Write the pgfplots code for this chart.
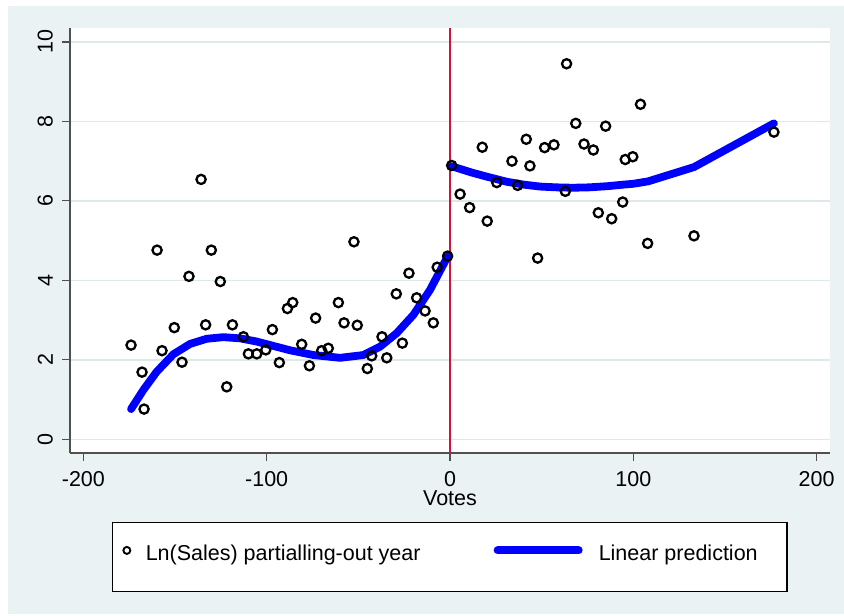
\documentclass[border=0pt]{standalone}
\usepackage{fontspec}
\setmainfont{Liberation Sans}
\usepackage{pgfplots}
\usepackage{pgfplotstable}
\pgfplotsset{compat=1.18}
\definecolor{bgc}{RGB}{234,242,243}
\definecolor{gridc}{RGB}{222,232,235}
\definecolor{axisc}{RGB}{80,80,80}
\definecolor{xlinec}{RGB}{205,20,60}
\definecolor{predc}{RGB}{0,0,255}

\pgfplotstableread{
x y
-174.0 2.37
-168.0 1.69
-166.9 0.76
-159.8 4.76
-157.1 2.23
-150.4 2.81
-146.2 1.94
-142.4 4.10
-135.8 6.54
-133.3 2.88
-130.2 4.76
-125.3 3.97
-121.8 1.32
-118.7 2.88
-112.7 2.58
-110.0 2.15
-105.4 2.15
-100.5 2.25
-96.9 2.76
-93.1 1.93
-88.7 3.29
-85.8 3.44
-80.9 2.39
-76.7 1.85
-73.3 3.05
-70.0 2.23
-66.4 2.29
-60.9 3.44
-57.8 2.93
-52.4 4.97
-50.6 2.87
-45.1 1.78
-42.7 2.10
-37.1 2.58
-34.5 2.05
-29.3 3.66
-26.0 2.42
-22.4 4.18
-18.2 3.56
-13.6 3.23
-9.1 2.93
-7.0 4.33
-1.3 4.61
0.9 6.89
5.5 6.17
10.7 5.83
17.6 7.35
20.3 5.49
25.5 6.46
33.8 7.00
36.9 6.39
41.6 7.55
43.6 6.88
47.8 4.56
51.6 7.34
56.7 7.41
62.9 6.24
63.6 9.45
68.6 7.95
73.1 7.43
78.2 7.28
80.9 5.70
84.9 7.88
88.2 5.55
94.2 5.97
95.6 7.04
99.7 7.11
103.9 8.43
107.8 4.93
133.1 5.12
176.7 7.73
}\scatterdata

\pgfplotstableread{
x y
-174.0 0.76
-167.3 1.24
-160.0 1.70
-150.9 2.14
-141.8 2.40
-132.7 2.53
-123.6 2.57
-114.5 2.54
-105.5 2.46
-96.4 2.35
-87.3 2.24
-74.5 2.12
-60.0 2.05
-47.3 2.12
-38.2 2.33
-29.1 2.67
-20.0 3.13
-10.9 3.76
-1.3 4.60
}\predleft

\pgfplotstableread{
x y
0.9 6.87
12.0 6.71
20.0 6.61
31.0 6.48
40.0 6.41
49.0 6.36
58.0 6.34
67.0 6.33
76.0 6.34
86.0 6.37
95.0 6.41
100.0 6.43
108.0 6.49
133.1 6.85
176.7 7.95
}\predright

\begin{document}
\begin{tikzpicture}
\path[use as bounding box] (0pt,0pt) rectangle (422pt,307.5pt);
\fill[bgc] (4pt,0.5pt) rectangle (422pt,304.5pt);
\draw[black, line width=0.6pt, fill=white] (56.15pt,11.65pt) rectangle (393.5pt,46.35pt);
\begin{axis}[
  at={(35pt,81pt)}, anchor=south west,
  scale only axis, width=380pt, height=212.5pt,
  xmin=-207.3, xmax=207.3, ymin=-0.345, ymax=10.35,
  xtick={-200,-100,0,100,200}, ytick={0,2,4,6,8,10},
  axis x line*=bottom, axis y line*=left,
  axis line style={-, draw=axisc, line width=0.6pt},
  tick align=outside, major tick length=4pt,
  tick style={draw=axisc, line width=0.6pt},
  ymajorgrids, major grid style={draw=gridc, line width=0.75pt},
  axis background/.style={fill=white},
  font=\fontsize{10.75pt}{13pt}\selectfont,
  /pgf/number format/assume math mode=true,
  xticklabel style={anchor=north, inner sep=0pt, yshift=-4.9pt},
  yticklabel style={xshift=-4.35pt, rotate=90, anchor=south, inner sep=0pt},
  xlabel={Votes},
  xlabel style={at={(axis description cs:0.5,0)}, anchor=base, yshift=-26pt, inner sep=0pt},
  legend columns=2,
  legend style={at={(axis description cs:0.06757,-0.2372)}, anchor=west,
    draw=none, fill=none, inner sep=0pt, outer sep=0pt,
    nodes={inner sep=0pt}, cells={anchor=west},
    /tikz/every even column/.style={column sep=0pt},
    /tikz/every odd column/.style={column sep=0pt},
    font=\fontsize{10.75pt}{13pt}\selectfont},
]
\addplot[xlinec, line width=1.3pt, forget plot] coordinates {(0,-0.345) (0,10.35)};
\addplot[only marks, mark=o, mark size=2.3pt, black, line width=1.15pt,
  legend image code/.code={
    \draw[black, line width=0.95pt] (2.175pt,1.7pt) circle (1.75pt);
    \path (0pt,0pt) (11.05pt,0pt);
  }] table[x=x,y=y] {\scatterdata};
\addlegendentry{\makebox[172pt][l]{Ln(Sales) partialling-out year}}
\addplot[predc, line width=3.9pt, line cap=round, line join=round, no marks,
  legend image code/.code={
    \draw[predc, line width=4pt, line cap=round] (2pt,1.7pt) -- (42.5pt,1.7pt);
    \path (0pt,0pt) (50.6pt,0pt);
  }] table[x=x,y=y] {\predleft};
\addlegendentry{Linear prediction}
\addplot[predc, line width=3.9pt, line cap=round, line join=round, no marks, forget plot] table[x=x,y=y] {\predright};
\end{axis}
\end{tikzpicture}
\end{document}
